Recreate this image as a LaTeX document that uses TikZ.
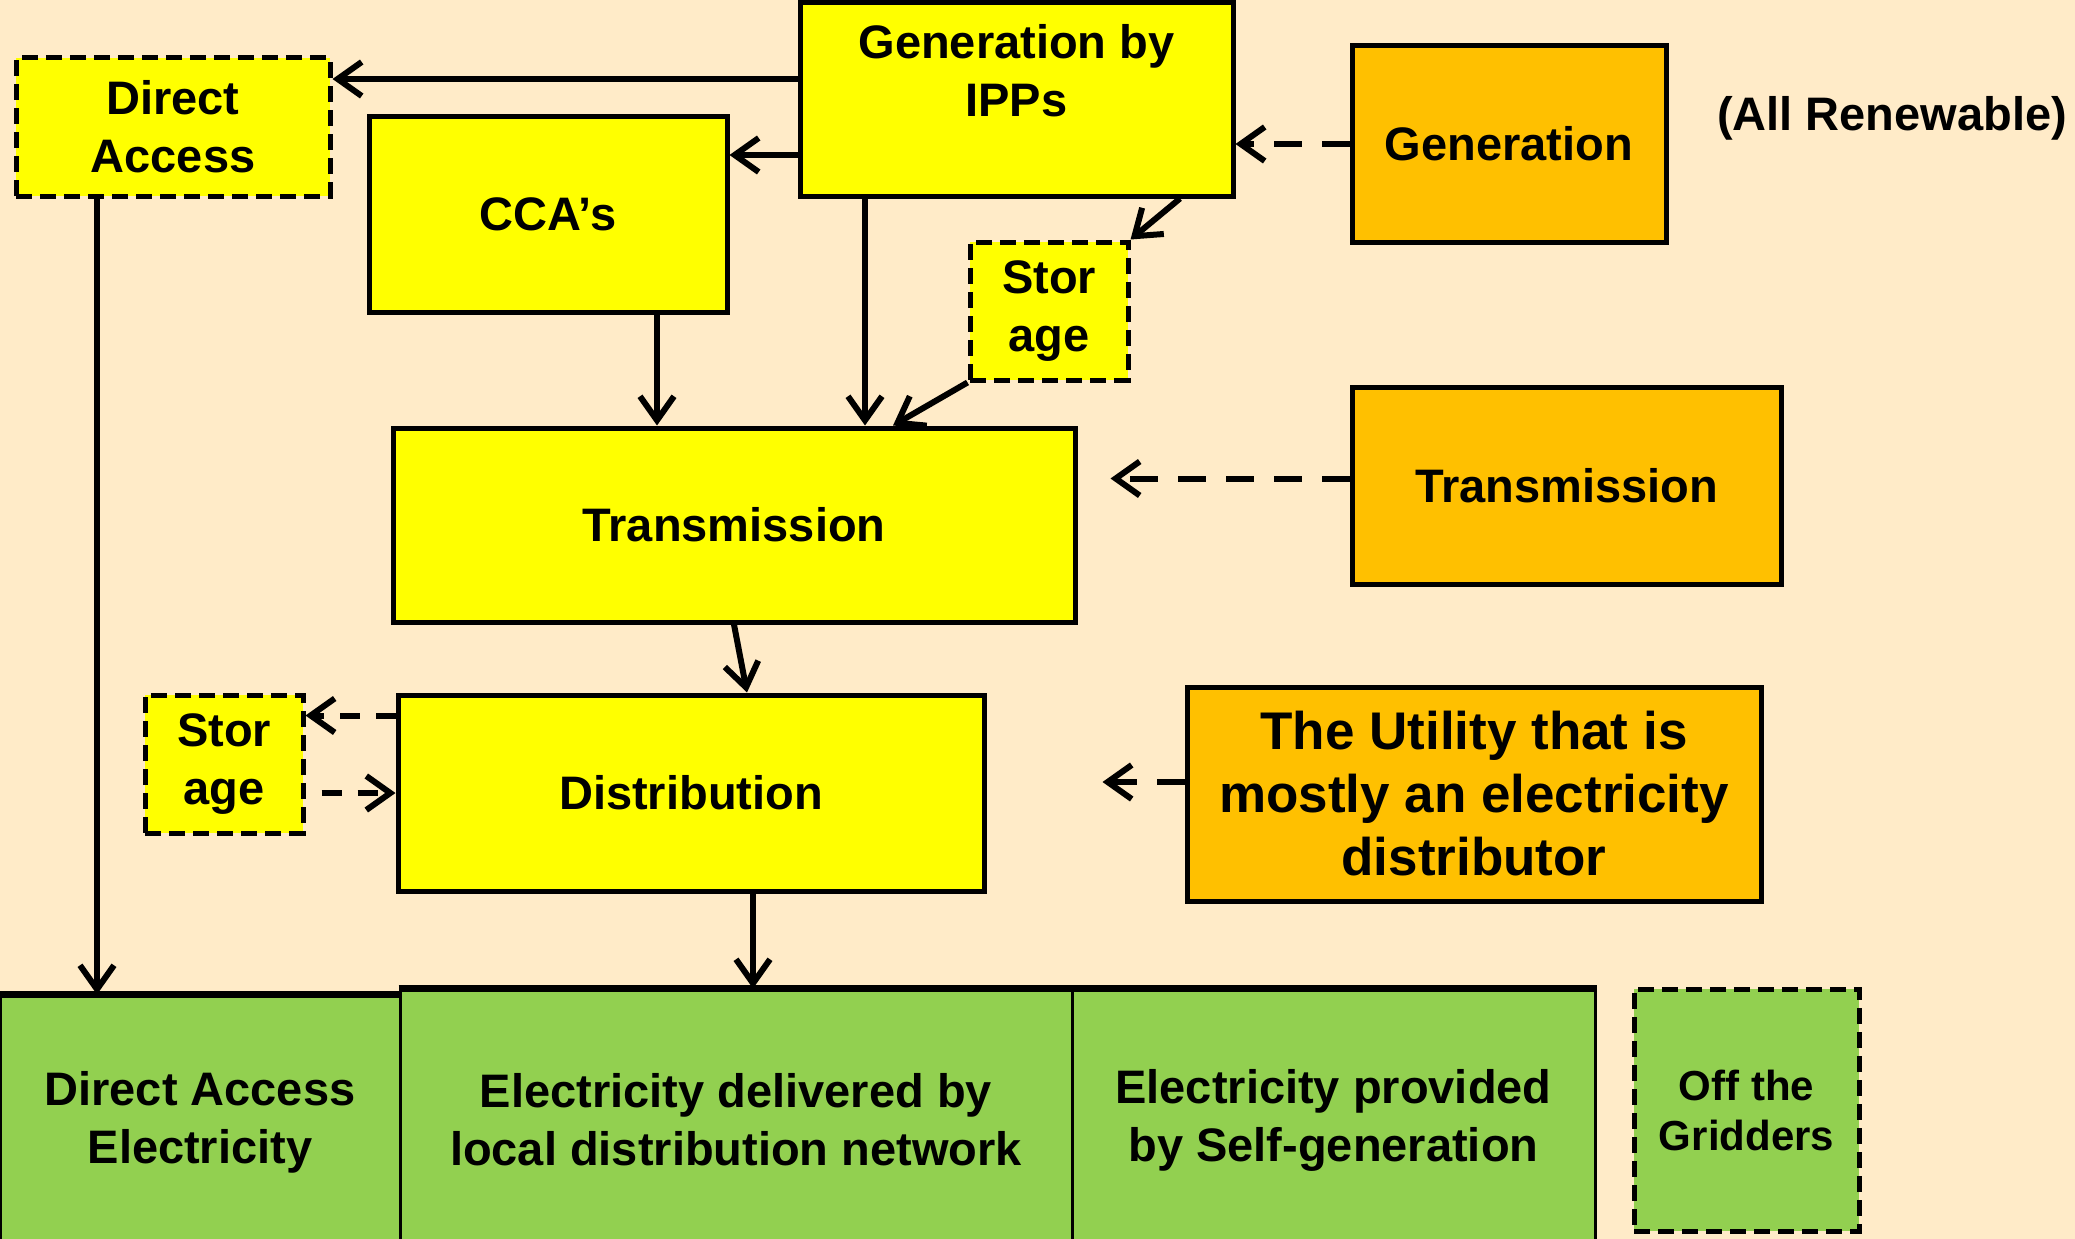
\documentclass[tikz,border=0pt]{standalone}
\usepackage{fontspec}
\setmainfont{Liberation Sans}
\usetikzlibrary{arrows.meta, calc}
\definecolor{bgc}{HTML}{FFEBC8}
\definecolor{yel}{HTML}{FFFF00}
\definecolor{org}{HTML}{FFC000}
\definecolor{grn}{HTML}{92D050}

\begin{document}
\begin{tikzpicture}[
    x=1pt,
    y=-1pt,
    box/.style={draw, line width=5pt, align=center, inner sep=0pt,
      font=\bfseries\fontsize{47}{58}\selectfont},
    ybox/.style={box, fill=yel},
    obox/.style={box, fill=org},
    dbox/.style={box, fill=yel, dash pattern=on 16pt off 8pt},
    gbox/.style={box, fill=grn, line width=3pt},
    arr/.style={line width=6pt, -{Straight Barb[length=24pt, width=34pt]}},
    darr/.style={arr, dash pattern=on 28pt off 20pt},
  ]
  \fill[bgc] (0,0) rectangle (2075,1239);
  \useasboundingbox (0,0) rectangle (2075,1239);

  % supply side
  \node[dbox, minimum width=314, minimum height=138] (da) at (173,127) {Direct\\Access};
  \node[ybox, minimum width=358, minimum height=196] (cca) at (548,214) {CCA’s};
  \node[ybox, minimum width=433, minimum height=193] (ipp) at (1016.5,99.5) {Generation by\\IPPs\\~};
  \node[dbox, minimum width=158, minimum height=138] (stor1) at (1049,311) {Stor\\age};
  \node[ybox, minimum width=682, minimum height=194] (trans) at (734,525) {Transmission};
  \node[ybox, minimum width=586, minimum height=196] (dist) at (691,793) {Distribution};
  \node[dbox, minimum width=158, minimum height=138] (stor2) at (224,764) {Stor\\age};

  % utility side
  \node[obox, minimum width=314, minimum height=196] (gen) at (1509,144) {Generation};
  \node[obox, minimum width=429, minimum height=197] (transo) at (1566.5,485.5) {Transmission};
  \node[obox, minimum width=574, minimum height=214,
    font=\bfseries\fontsize{53}{63}\selectfont] (util) at (1474,794)
    {The Utility that is\\mostly an electricity\\distributor};
  \node[font=\bfseries\fontsize{47}{57}\selectfont] (ren) at (1892,118) {(All Renewable)};

  % customers
  \node[gbox, minimum width=400, minimum height=252] (gda) at (200,1122) {Direct Access\\Electricity};
  \node[gbox, minimum width=672, minimum height=260] (gloc) at (736,1120) {Electricity delivered by\\local distribution network};
  \node[gbox, minimum width=523, minimum height=260] (gself) at (1333.5,1120) {Electricity provided\\by Self-generation};
  \node[dbox, fill=grn, minimum width=225, minimum height=242,
    font=\bfseries\fontsize{42}{50}\selectfont] (off) at (1746.5,1110) {Off the\\Gridders};
  \draw[line width=7pt] (gda.north west) -- (gda.north east);
  \draw[line width=7pt] (gloc.north west) -- (gself.north east);

  % helper coordinates
  \coordinate (yDA) at (0,79);
  \coordinate (yCCA) at (0,155);
  \coordinate (xC) at (657,0);
  \coordinate (xI) at (865,0);
  \coordinate (xS) at (1180,0);
  \coordinate (xT) at (893,0);
  \coordinate (xL) at (97,0);
  \coordinate (xB) at (753,0);
  \coordinate (u1) at ([yshift=12pt]util.west);
  \coordinate (t1) at ([yshift=7pt]transo.west);

  % solid flows
  \draw[arr] (ipp.west |- yDA) -- (da.east |- yDA);
  \draw[arr] (ipp.west |- yCCA) -- (cca.east |- yCCA);
  \draw[arr] (cca.south -| xC) -- (trans.north -| xC);
  \draw[arr] (ipp.south -| xI) -- (trans.north -| xI);
  \draw[arr] (ipp.south -| xS) -- (stor1.north east);
  \draw[arr] (stor1.south west) -- (trans.north -| xT);
  \draw[arr] (trans.south) -- ([xshift=56pt]dist.north);
  \draw[arr] (da.south -| xL) -- (gda.north -| xL);
  \draw[arr] (dist.south -| xB) -- (gloc.north -| xB);

  % dashed flows
  \draw[darr] (gen.west) -- (ipp.east |- gen.west);
  \draw[darr] (t1) -- ([xshift=33pt]trans.east |- t1);
  \draw[darr] (u1) -- ([xshift=116pt]dist.east |- u1);
  \draw[darr, dash pattern=on 20pt off 16pt] ([yshift=-23pt]dist.north west) -- ([yshift=-23pt]stor2.north east);
  \draw[darr, dash pattern=on 20pt off 16pt] ([xshift=16pt]stor2.east |- dist.west) -- (dist.west);
\end{tikzpicture}
\end{document}
